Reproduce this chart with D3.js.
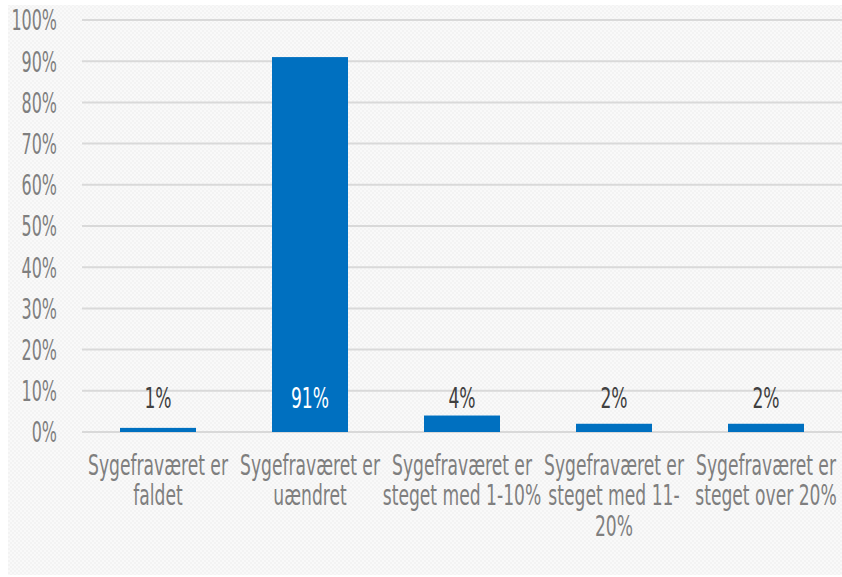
<!DOCTYPE html>
<html><head><meta charset="utf-8">
<script src="https://cdn.jsdelivr.net/npm/d3@7"></script>
<style>body{margin:0;background:#fff}svg{display:block}</style>
</head><body>
<svg id="c" width="842" height="577"></svg>
<script>
const categories = [
  ["Sygefraværet er", "faldet"],
  ["Sygefraværet er", "uændret"],
  ["Sygefraværet er", "steget med 1-10%"],
  ["Sygefraværet er", "steget med 11-", "20%"],
  ["Sygefraværet er", "steget over 20%"]
];
const values = [1, 91, 4, 2, 2];
const valueLabels = ["1%", "91%", "4%", "2%", "2%"];
const yTicks = [0,10,20,30,40,50,60,70,80,90,100];

const svg = d3.select("#c");
const font = "'DejaVu Sans Condensed','DejaVu Sans',sans-serif";
const FW = 400;
const FS = 28;
// measure to compute horizontal condensing factor
const probe = svg.append("text").attr("font-family",font).attr("font-weight",FW).attr("font-size",FS).text("Sygefraværet er");
const SX = 140 / probe.node().getComputedTextLength();
probe.remove();

const defs = svg.append("defs");
const pat = defs.append("pattern").attr("id","chk").attr("width",4).attr("height",4).attr("patternUnits","userSpaceOnUse");
pat.append("rect").attr("width",4).attr("height",4).attr("fill","#f9f9f9");
pat.append("rect").attr("width",2).attr("height",2).attr("fill","#f3f3f3");
pat.append("rect").attr("x",2).attr("y",2).attr("width",2).attr("height",2).attr("fill","#f3f3f3");
svg.append("rect").attr("x",8).attr("y",5).attr("width",834).attr("height",570).attr("fill","url(#chk)");

const x = d3.scaleBand().domain(d3.range(categories.length)).range([82, 842]).paddingInner(0.5).paddingOuter(0.25);
const y = d3.scaleLinear().domain([0,100]).range([432, 20]);

// gridlines
svg.append("g").selectAll("line").data(yTicks).join("line")
  .attr("x1",82).attr("x2",842).attr("y1",d=>y(d)).attr("y2",d=>y(d))
  .attr("stroke","#d9d9d9").attr("stroke-width",2);

// y axis labels (condensed via horizontal scale)
const yAxis = d3.axisLeft(y).tickValues(yTicks).tickFormat(d=>d+"%").tickSize(0).tickPadding(0);
const ya = svg.append("g").attr("transform","translate(57,0)").call(yAxis);
ya.select(".domain").remove();
ya.selectAll(".tick text").attr("font-family",font).attr("font-weight",FW).attr("font-size",FS).attr("fill","#7f7f7f")
  .attr("dy","0.35em").attr("x",0).attr("transform",`scale(${SX*0.93},1)`);

// bars
svg.append("g").selectAll("rect").data(values).join("rect")
  .attr("x",(d,i)=>x(i)).attr("width",x.bandwidth())
  .attr("y",d=>y(d)).attr("height",d=>y(0)-y(d))
  .attr("fill","#0070c0");

// value labels
svg.append("g").selectAll("text").data(values).join("text")
  .attr("transform",(d,i)=>`translate(${x(i)+x.bandwidth()/2},${y(6)+1}) scale(${SX},1)`)
  .attr("text-anchor","middle").attr("font-family",font).attr("font-weight",FW).attr("font-size",FS)
  .attr("fill",d=>d>50?"#ffffff":"#404040")
  .text((d,i)=>valueLabels[i]);

// category labels
const cg = svg.append("g").selectAll("g").data(categories).join("g")
  .attr("transform",(d,i)=>`translate(${x(i)+x.bandwidth()/2},0) scale(${SX},1)`);
cg.each(function(lines){
  const t = d3.select(this);
  lines.forEach((ln,j)=>{
    t.append("text").attr("x",0).attr("y",475+j*30.5)
      .attr("text-anchor","middle").attr("font-family",font).attr("font-weight",FW).attr("font-size",FS).attr("fill","#7f7f7f")
      .text(ln);
  });
});
</script>
</body></html>
